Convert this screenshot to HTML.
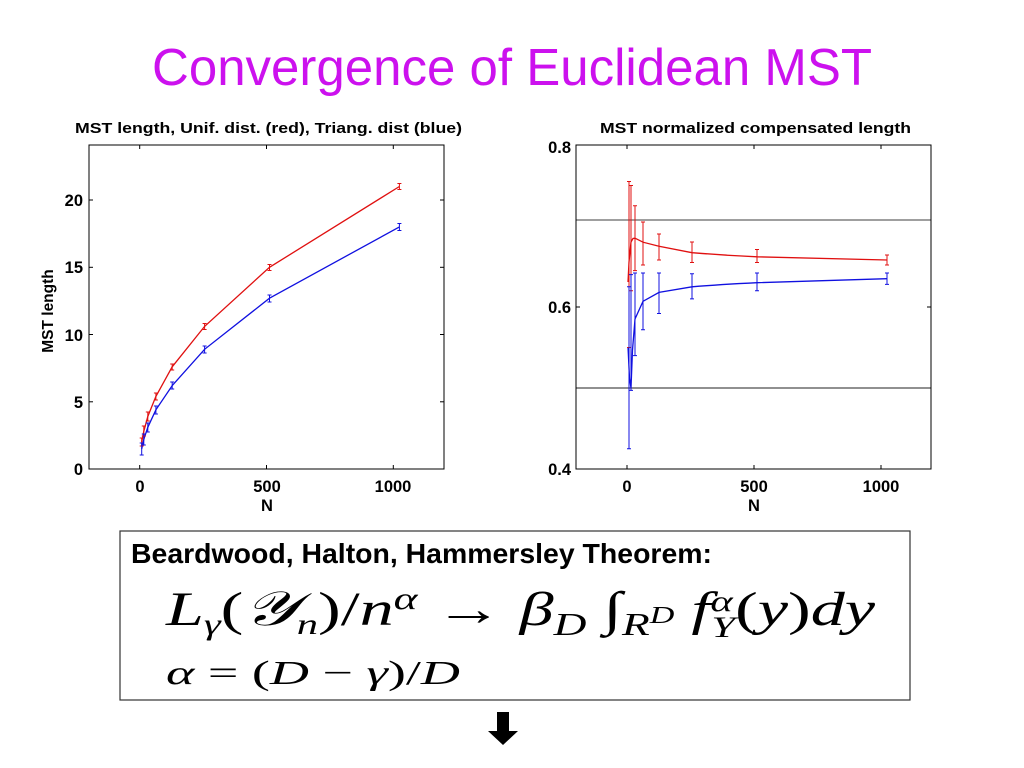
<!DOCTYPE html>
<html><head><meta charset="utf-8"><style>
html,body{margin:0;padding:0;background:#fff;}
body{width:1024px;height:768px;overflow:hidden;position:relative;font-family:"Liberation Sans",sans-serif;}
</style></head><body>
<svg width="1024" height="768" viewBox="0 0 1024 768" xmlns="http://www.w3.org/2000/svg" style="position:absolute;left:0;top:0">
<text x="512" y="85" text-anchor="middle" font-family="Liberation Sans, sans-serif" font-size="52" fill="#cc11ee" textLength="720" lengthAdjust="spacingAndGlyphs">Convergence of Euclidean MST</text>

<!-- Left chart -->
<g font-family="Liberation Sans, sans-serif" fill="#000" font-weight="bold">
<text x="75" y="133" font-size="15" textLength="387" lengthAdjust="spacingAndGlyphs">MST length, Unif. dist. (red), Triang. dist (blue)</text>
<rect x="89" y="145" width="355" height="324" fill="none" stroke="#000" stroke-width="1"/>
<g stroke="#000" stroke-width="1">
<line x1="139.7" y1="469" x2="139.7" y2="465"/><line x1="266.5" y1="469" x2="266.5" y2="465"/><line x1="393.3" y1="469" x2="393.3" y2="465"/>
<line x1="139.7" y1="145" x2="139.7" y2="149"/><line x1="266.5" y1="145" x2="266.5" y2="149"/><line x1="393.3" y1="145" x2="393.3" y2="149"/>
<line x1="89" y1="401.8" x2="93" y2="401.8"/><line x1="89" y1="334.5" x2="93" y2="334.5"/><line x1="89" y1="267.3" x2="93" y2="267.3"/><line x1="89" y1="200" x2="93" y2="200"/>
<line x1="444" y1="401.8" x2="440" y2="401.8"/><line x1="444" y1="334.5" x2="440" y2="334.5"/><line x1="444" y1="267.3" x2="440" y2="267.3"/><line x1="444" y1="200" x2="440" y2="200"/>
</g>
<g font-size="16.5" text-anchor="end">
<text x="83" y="475">0</text><text x="83" y="408">5</text><text x="83" y="341">10</text><text x="83" y="273">15</text><text x="83" y="206">20</text>
</g>
<g font-size="16.5" text-anchor="middle">
<text x="140" y="492">0</text><text x="267" y="492">500</text><text x="393" y="492">1000</text>
<text x="267" y="511">N</text>
</g>
<text transform="translate(53,311) rotate(-90)" text-anchor="middle" font-size="15.5">MST length</text>
</g>
<polyline fill="none" stroke="#e01010" stroke-width="1.3" points="141.7,442.1 143.8,431.3 147.8,416.5 155.9,396.4 172.2,366.8 204.6,326.4 269.5,267.3 399.4,186.5"/>
<polyline fill="none" stroke="#1010e0" stroke-width="1.3" points="141.7,448.8 143.8,439.4 147.8,427.3 155.9,409.8 172.2,385.6 204.6,349.3 269.5,298.2 399.4,226.9"/>
<g stroke="#e01010" stroke-width="1">
<path d="M141.7,438v8 M143.8,426v10 M147.8,412v9 M155.9,393v7 M172.2,364v6 M204.6,323.5v6 M269.5,264.5v6 M399.4,183.5v6"/>
<path d="M139.7,438h4M139.7,446h4 M141.8,426h4M141.8,436h4 M145.8,412h4M145.8,421h4 M153.9,393h4M153.9,400h4 M170.2,364h4M170.2,370h4 M202.6,323.5h4M202.6,329.5h4 M267.5,264.5h4M267.5,270.5h4 M397.4,183.5h4M397.4,189.5h4"/>
</g>
<g stroke="#1010e0" stroke-width="1">
<path d="M141.7,443v12 M143.8,434v11 M147.8,423v9 M155.9,406v8 M172.2,382v7 M204.6,346v7 M269.5,295v7 M399.4,223.5v7"/>
<path d="M139.7,443h4M139.7,455h4 M141.8,434h4M141.8,445h4 M145.8,423h4M145.8,432h4 M153.9,406h4M153.9,414h4 M170.2,382h4M170.2,389h4 M202.6,346h4M202.6,353h4 M267.5,295h4M267.5,302h4 M397.4,223.5h4M397.4,230.5h4"/>
</g>

<!-- Right chart -->
<g font-family="Liberation Sans, sans-serif" fill="#000" font-weight="bold">
<text x="600" y="133" font-size="15" textLength="311" lengthAdjust="spacingAndGlyphs">MST normalized compensated length</text>
<line x1="576" y1="220" x2="931" y2="220" stroke="#666" stroke-width="1.2"/>
<line x1="576" y1="388" x2="931" y2="388" stroke="#222" stroke-width="1"/>
<rect x="576" y="145" width="355" height="324" fill="none" stroke="#000" stroke-width="1"/>
<g stroke="#000" stroke-width="1">
<line x1="627" y1="469" x2="627" y2="465"/><line x1="754" y1="469" x2="754" y2="465"/><line x1="881" y1="469" x2="881" y2="465"/>
<line x1="627" y1="145" x2="627" y2="149"/><line x1="754" y1="145" x2="754" y2="149"/><line x1="881" y1="145" x2="881" y2="149"/>
<line x1="576" y1="307" x2="580" y2="307"/><line x1="931" y1="307" x2="927" y2="307"/>
</g>
<g font-size="16.5" text-anchor="end">
<text x="571" y="475">0.4</text><text x="571" y="313">0.6</text><text x="571" y="153">0.8</text>
</g>
<g font-size="16.5" text-anchor="middle">
<text x="627" y="492">0</text><text x="754" y="492">500</text><text x="881" y="492">1000</text>
<text x="754" y="511">N</text>
</g>
</g>
<path fill="none" stroke="#e01010" stroke-width="1.3" d="M628,282 L629,262 L631,242 L633,238.5 L635,238.2 L643,242.2 L659,246.3 L692,252.7 Q720,255 757,256.8 Q820,258.5 887,260"/>
<path fill="none" stroke="#1010e0" stroke-width="1.3" d="M628,347 L629.5,378 L631,388 L632.5,350 L635,319 L643,301.3 L659,292.4 L692,286.8 Q720,284.5 757,282.7 Q820,280.5 887,278.7"/>
<g stroke="#e01010" stroke-width="1">
<path d="M629,181.5V347.5 M631,185.5V290.8 M635,205.8V270.6 M643,222V265 M659,234V260 M692,242V262.5 M757,249.5V262.5 M887,255V265"/>
<path d="M627,181.5h4M627,347.5h4 M629,185.5h4M629,290.8h4 M633,205.8h4M633,270.6h4 M641,222h4M641,265h4 M657,234h4M657,260h4 M690,242h4M690,262.5h4 M755,249.5h4M755,262.5h4 M885,255h4M885,265h4"/>
</g>
<g stroke="#1010e0" stroke-width="1">
<path d="M629,286.8V448.8 M631,274.6V390.4 M635,273V355.6 M643,273V329.7 M659,273V313.5 M692,273.8V298.9 M757,273V290.8 M887,273V284.4"/>
<path d="M627,286.8h4M627,448.8h4 M629,274.6h4M629,390.4h4 M633,273h4M633,355.6h4 M641,273h4M641,329.7h4 M657,273h4M657,313.5h4 M690,273.8h4M690,298.9h4 M755,273h4M755,290.8h4 M885,273h4M885,284.4h4"/>
</g>

<!-- Theorem box -->
<rect x="120" y="531" width="790" height="169" fill="#fff" stroke="#333" stroke-width="1.2"/>
<text x="131" y="563" font-family="Liberation Sans, sans-serif" font-weight="bold" font-size="28" textLength="581" lengthAdjust="spacingAndGlyphs">Beardwood, Halton, Hammersley Theorem:</text>
<g font-family="Liberation Serif, serif" font-style="italic" fill="#000">
<text x="166" y="625" font-size="48" textLength="709" lengthAdjust="spacingAndGlyphs">L<tspan font-size="30" dy="9">γ</tspan><tspan font-style="normal" dy="-9">(</tspan>𝒴<tspan font-size="30" dy="9">n</tspan><tspan font-style="normal" dy="-9">)/</tspan>n<tspan font-size="32" dy="-16">α</tspan><tspan font-style="normal" dy="16"> → </tspan>β<tspan font-size="32" dy="10">D</tspan><tspan font-style="normal" dy="-10">  ∫</tspan><tspan font-size="32" dy="10">R</tspan><tspan font-size="24" dy="-12">D</tspan><tspan dy="2">  f</tspan><tspan font-size="30" dy="-14">α</tspan><tspan font-size="30" dx="-15" dy="26">Y</tspan><tspan font-style="normal" dy="-12">(</tspan>y<tspan font-style="normal">)</tspan>dy</text>
<text x="166" y="684" font-size="34" textLength="294" lengthAdjust="spacingAndGlyphs">α <tspan font-style="normal">= (</tspan>D <tspan font-style="normal">− </tspan>γ<tspan font-style="normal">)/</tspan>D</text>
</g>
<!-- arrow -->
<rect x="497" y="712" width="12" height="20" fill="#000"/>
<polygon points="488,731 518,731 503,745" fill="#000"/>
</svg>
</body></html>
